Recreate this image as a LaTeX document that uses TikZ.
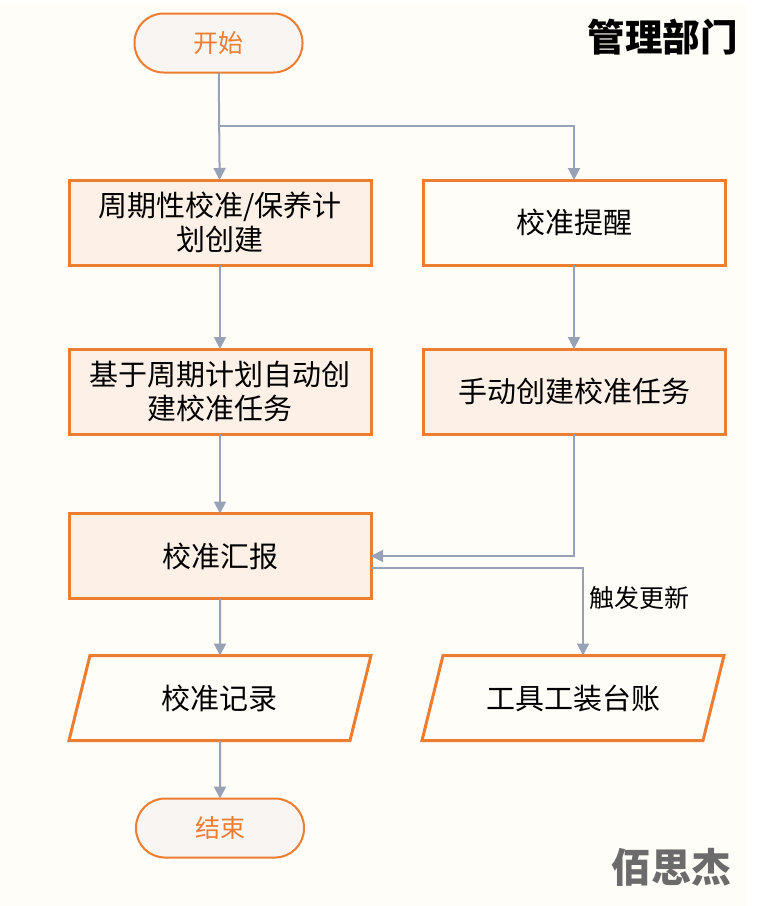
\documentclass[tikz,border=0pt]{standalone}
\usepackage{fontspec}
\setmainfont{Noto Sans CJK SC}
\usetikzlibrary{arrows.meta, positioning, shapes.geometric}
\definecolor{edgeorange}{HTML}{ED7D31}
\definecolor{boxtint}{HTML}{FDF1E7}
\definecolor{capfill}{HTML}{F9F5F2}
\definecolor{flowgray}{HTML}{98A2B6}
\definecolor{paper}{HTML}{FFFDF8}

\begin{document}
\begin{tikzpicture}[>={Triangle[length=12pt, width=12pt]}, x=1pt, y=-1pt,
  box/.style={draw=edgeorange, line width=3pt, outer sep=0pt, minimum height=85pt, minimum width=302pt, align=center, font=\fontsize{29}{34}\selectfont},
  tinted/.style={box, fill=boxtint},
  capnode/.style={draw=edgeorange, line width=2pt, outer sep=0pt, fill=capfill, rounded corners=29pt, minimum height=59pt, minimum width=168pt, text=edgeorange, font=\fontsize{25}{30}\selectfont},
  slant/.style={box, trapezium, trapezium left angle=58, trapezium right angle=122, trapezium stretches body=true, inner xsep=0pt},
  flow/.style={->, draw=flowgray, line width=2pt}]
\useasboundingbox (0,0) rectangle (763,906);
\fill[paper] (0,3) rectangle (745.5,906);

\node[tinted] (plan) at (220,222.5) {周期性校准/保养计\\划创建};
\node[box, right=52pt of plan] (remind) {校准提醒};
\node[tinted, below=84pt of plan] (auto) {基于周期计划自动创\\建校准任务};
\node[tinted, right=52pt of auto] (manual) {手动创建校准任务};
\node[tinted, below=79.5pt of auto] (report) {校准汇报};
\node[slant, below=57pt of report] (record) {校准记录};
\node[slant, xshift=-1pt] (ledger) at (manual |- record) {工具工装台账};
\node[capnode, above=107.5pt of plan, xshift=-1.5pt] (start) {开始};
\node[capnode, below=58pt of record] (finish) {结束};
\node[font=\fontsize{37.5}{37.5}\selectfont\bfseries] (dept) at (662.5,37) {管理部门};
\node[font=\fontsize{40}{40}\selectfont\bfseries, text=black!58] (brand) at (671,867) {佰思杰};

\draw[flow] (start) -- coordinate[midway] (split) (plan);
\draw[flow] (split) -| (remind);
\draw[flow] (plan) -- (auto);
\draw[flow] (remind) -- (manual);
\draw[flow] (auto) -- (report);
\draw[flow] (manual) |- (report);
\draw[flow] (report) -- (record);
\draw[flow] (record) -- (finish);
\draw[flow] ([yshift=-12pt]report.east) -| node[pos=0.67, right=2pt, font=\fontsize{25}{25}\selectfont] (trigger) {触发更新} ([xshift=10pt]ledger.north);
\end{tikzpicture}
\end{document}
